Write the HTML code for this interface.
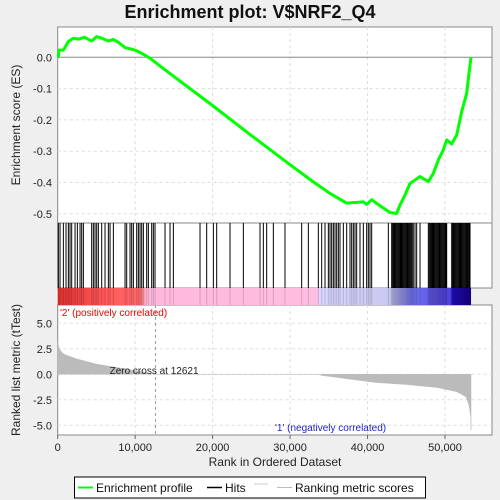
<!DOCTYPE html>
<html><head><meta charset="utf-8"><style>
body{margin:0;background:#efefef;}
svg{display:block;font-family:"Liberation Sans",sans-serif;}
</style></head><body>
<svg id="c" width="500" height="500">
<text x="250" y="18" text-anchor="middle" font-size="18" font-weight="bold" fill="#111">Enrichment plot: V$NRF2_Q4</text>
<rect x="57.7" y="27" width="434.3" height="196" fill="#fff" stroke="#888"/>
<rect x="57.7" y="223" width="434.3" height="65" fill="#fff" stroke="#888"/>
<rect x="57.7" y="305" width="434.3" height="130" fill="#fff" stroke="#888"/>
<g id="grid"></g>
<g id="es"></g>
<g id="hits"></g>
<g id="bar"></g>
<g id="metric"></g>
<g id="axes"></g>
<text x="20" y="125" transform="rotate(-90 20 125)" text-anchor="middle" font-size="12" fill="#222">Enrichment score (ES)</text>
<text x="20" y="370" transform="rotate(-90 20 370)" text-anchor="middle" font-size="12" fill="#222">Ranked list metric (tTest)</text>
<text x="275" y="466" text-anchor="middle" font-size="12" fill="#222">Rank in Ordered Dataset</text>
<text x="60" y="316" font-size="10" fill="#e00">'2' (positively correlated)</text>
<text x="275" y="431" font-size="10" fill="#22c">'1' (negatively correlated)</text>
<g>
<rect x="74.5" y="477" width="351" height="21" fill="#fff" stroke="#000"/>
<line x1="78" y1="487.5" x2="93" y2="487.5" stroke="#0f0" stroke-width="2"/>
<text x="96" y="492" font-size="12" fill="#111">Enrichment profile</text>
<line x1="207" y1="487.5" x2="222" y2="487.5" stroke="#000" stroke-width="1.5"/>
<text x="225" y="492" font-size="12" fill="#111">Hits</text>
<line x1="254" y1="484" x2="268" y2="484" stroke="#ccc"/>
<line x1="277" y1="487.5" x2="292" y2="487.5" stroke="#bbb"/>
<text x="295" y="492" font-size="12" fill="#111">Ranking metric scores</text>
</g>
</svg>
<script>
const esRanks=[0,80,170,730,1370,2020,2670,3440,4390,5030,5680,6540,7180,7830,8690,9980,10840,11920,13850,19880,24900,29990,33000,35150,37310,39460,39890,40540,41180,42900,43760,44190,44840,45480,46770,47850,48490,49140,49780,50220,50860,51510,52150,52800,53100,53360];
const esValues=[0,0.002,0.023,0.023,0.05,0.061,0.058,0.064,0.052,0.066,0.061,0.052,0.057,0.048,0.031,0.023,0.013,-0.003,-0.04,-0.152,-0.248,-0.343,-0.398,-0.435,-0.466,-0.462,-0.47,-0.455,-0.467,-0.496,-0.499,-0.472,-0.44,-0.403,-0.381,-0.397,-0.371,-0.328,-0.296,-0.264,-0.277,-0.248,-0.174,-0.115,-0.051,0];
const hitRanks=[86,301,731,1076,1377,1592,1807,2238,2539,2883,3098,3313,4389,4604,4819,5034,5250,5680,6110,6540,6756,7186,8692,8907,9337,9552,9768,10198,10413,10628,10843,11059,11489,11704,12134,12349,12565,13855,14501,14931,18373,19234,20095,20525,22246,23967,26119,26549,26979,27840,29346,31497,32358,33649,34079,34509,34940,35155,35370,35585,35800,36015,36231,36446,36876,37306,37737,37952,38167,38382,38597,39028,39458,39888,40103,40318,40534,42685,
43115,43240,43360,43480,43600,43720,43840,43960,44080,44200,44320,44440,44560,44680,44800,44920,45040,45160,45280,45400,45520,45640,45760,45900,46127,46343,46773,
47848,47970,48090,48210,48330,48450,48570,48690,48810,48930,49050,49170,49290,49410,49530,49650,49770,49890,50010,50130,50215,
50861,50980,51100,51220,51340,51460,51580,51700,51820,51940,52060,52180,52300,52420,52540,52660,52780,52900,53020,53140,53227];
const metricRanks=[0,200,600,1000,2500,5000,9000,12621,33700,34000,38000,41000,45000,49000,51500,52700,53100,53330,53360];
const metricValues=[3.2,2.5,2.1,1.9,1.5,1.0,0.5,0,0,-0.1,-0.5,-0.8,-1.0,-1.3,-1.7,-2.2,-3.0,-4.2,-5.5];
const xTicks=[0,10000,20000,30000,40000,50000];
const xTickLabels=["0","10,000","20,000","30,000","40,000","50,000"];
const esTicks=[0,-0.1,-0.2,-0.3,-0.4,-0.5];
const esTickLabels=["0.0","-0.1","-0.2","-0.3","-0.4","-0.5"];
const mTicks=[5,2.5,0,-2.5,-5];
const mTickLabels=["5.0","2.5","0.0","-2.5","-5.0"];
const zeroCross=12621;
const totalRanks=53360;
const NS="http://www.w3.org/2000/svg";
const X=r=>57.7+r*0.007746;
const YE=v=>57.3-v*313;
const YM=v=>374.3-v*10.2;
function mk(t,a,p){const e=document.createElementNS(NS,t);for(const k in a)e.setAttribute(k,a[k]);p.appendChild(e);return e;}
const grid=document.getElementById('grid'),axes=document.getElementById('axes');
xTicks.forEach((t,i)=>{
 if(t>0){[[27,223],[305,435]].forEach(([a,b])=>{const l=mk('line',{x1:X(t),x2:X(t),y1:a,y2:b,stroke:'#ddd','stroke-dasharray':'3,3'},grid);});}
 const l=mk('line',{x1:X(t),x2:X(t),y1:435,y2:439,stroke:'#666'},axes);
 
 const tx=mk('text',{x:X(t),y:451,'text-anchor':'middle','font-size':11,fill:'#222'},axes);tx.textContent=xTickLabels[i];
 
});
esTicks.forEach((t,i)=>{
 if(t!==0){const g=mk('line',{x1:57.7,x2:492,y1:YE(t),y2:YE(t),stroke:'#ddd','stroke-dasharray':'3,3'},grid);}
 const tx=mk('text',{x:52,y:YE(t)+4,'text-anchor':'end','font-size':11,fill:'#222'},axes);tx.textContent=esTickLabels[i];
 
});
const z=mk('line',{x1:57.7,x2:492,y1:YE(0),y2:YE(0),stroke:'#888'},grid);

mTicks.forEach((t,i)=>{
 const g=mk('line',{x1:57.7,x2:492,y1:YM(t),y2:YM(t),stroke:'#ddd','stroke-dasharray':'3,3'},grid);
 const tx=mk('text',{x:52,y:YM(t)+4,'text-anchor':'end','font-size':11,fill:'#222'},axes);tx.textContent=mTickLabels[i];
 
});
const es=document.getElementById('es');
const pl=mk('polyline',{points:esRanks.map((r,i)=>X(r)+','+YE(esValues[i])).join(' '),fill:'none',stroke:'#0f0','stroke-width':3,'stroke-linejoin':'round'},es);

const hits=document.getElementById('hits');
hitRanks.forEach(r=>{const l=mk('line',{x1:X(r),x2:X(r),y1:223,y2:288,stroke:'#000','stroke-width':1},hits);
 });
const bar=document.getElementById('bar');
const defs=mk('defs',{},bar);
const lg=mk('linearGradient',{id:'cb',x1:0,x2:1,y1:0,y2:0},defs);
[[0,'#e03030'],[0.12,'#ff5a5a'],[0.2,'#ff6a6a'],[0.215,'#ffb8dc'],[0.63,'#ffbde0'],[0.632,'#d8d8ff'],[0.8,'#c8c8f0'],[0.86,'#7070ee'],[0.95,'#5040e0'],[0.955,'#2010c0'],[1,'#180090']].forEach(([o,c])=>mk('stop',{offset:o,'stop-color':c},lg));
const cb=mk('rect',{x:X(0),y:288,width:X(totalRanks)-X(0),height:17,fill:'url(#cb)'},bar);

hitRanks.forEach(r=>{const l=mk('line',{x1:X(r),x2:X(r),y1:288,y2:305,stroke:'#000','stroke-opacity':0.15,'stroke-width':1},bar);
 });
const met=document.getElementById('metric');
let d='M'+X(metricRanks[0])+','+YM(0);
metricRanks.forEach((r,i)=>{d+=' L'+X(r)+','+YM(metricValues[i]);});
d+=' L'+X(metricRanks[metricRanks.length-1])+','+YM(0)+' Z';
const ar=mk('path',{d:d,fill:'#bbb',stroke:'#bbb','stroke-width':0.5},met);

const zc=mk('line',{x1:X(zeroCross),x2:X(zeroCross),y1:305,y2:435,stroke:'#999','stroke-dasharray':'3,3'},met);

const zt=mk('text',{x:X(6700),y:374,'font-size':10,fill:'#222'},met);zt.textContent='Zero cross at '+zeroCross;

</script>
</body></html>
